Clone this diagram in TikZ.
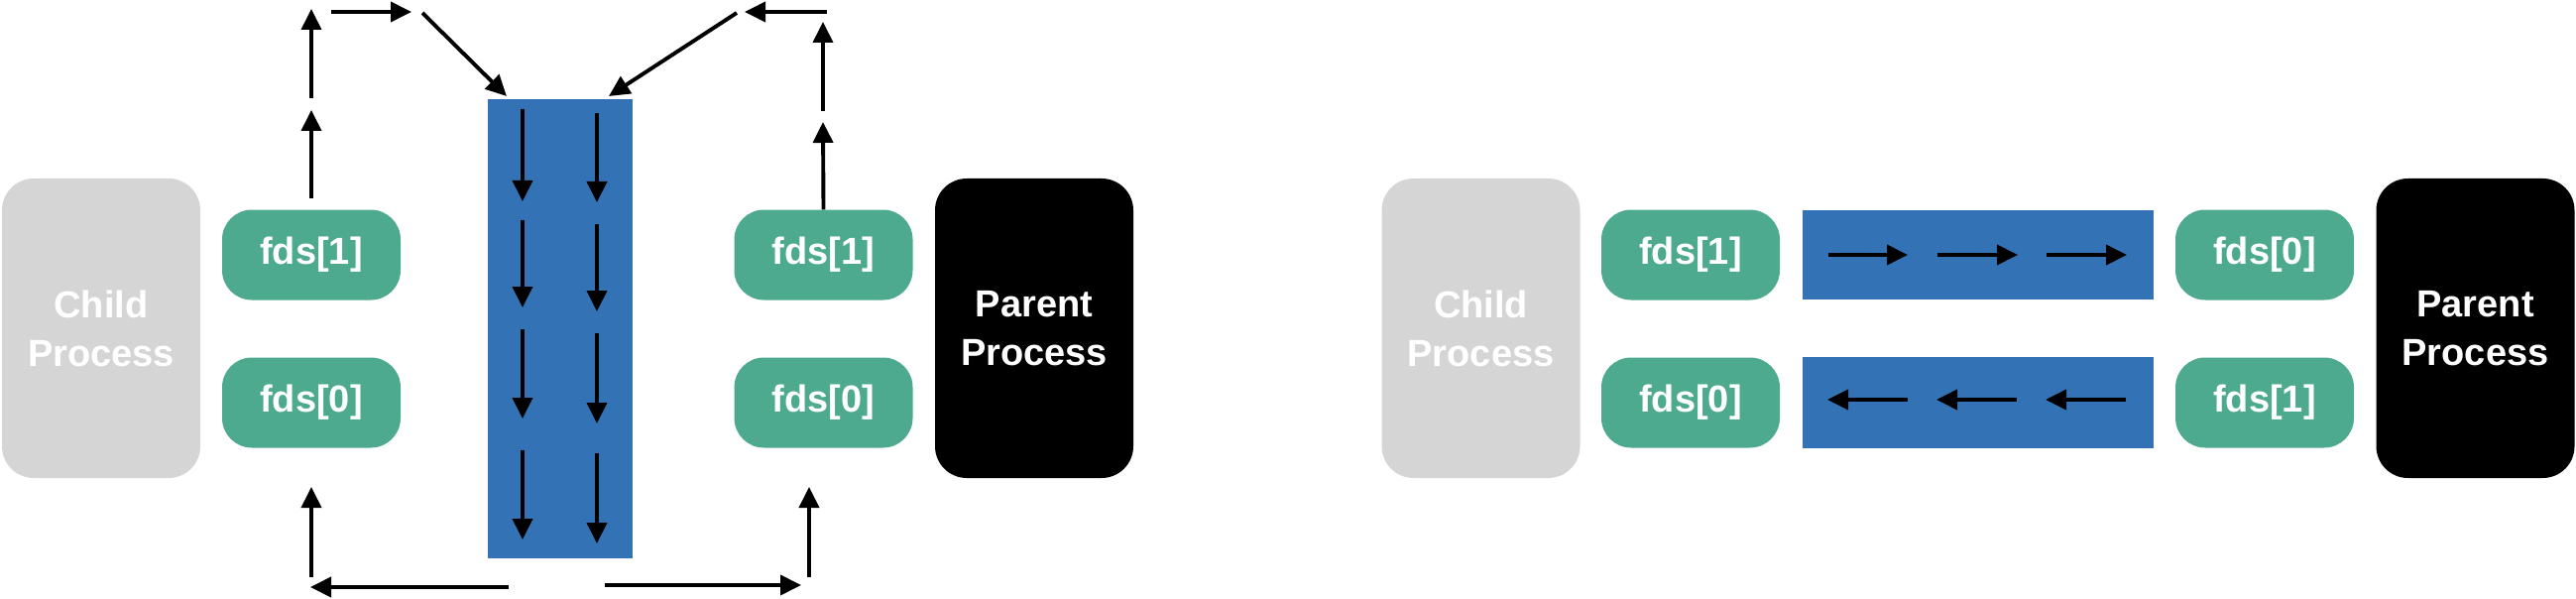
\documentclass[tikz,border=0pt]{standalone}
\usepackage{fontspec}
\usetikzlibrary{arrows.meta}
\newfontfamily\lblfont{Liberation Sans}
\definecolor{procgray}{RGB}{213,213,213}
\definecolor{fdgreen}{RGB}{78,170,143}
\definecolor{pipeblue}{RGB}{51,115,181}
\tikzset{
  proc/.style={rounded corners=32pt, minimum width=200pt, minimum height=302pt, inner sep=0pt,
    text=white, align=center, font=\lblfont\bfseries\fontsize{38}{49}\selectfont},
  fdbox/.style={rounded corners=30pt, fill=fdgreen, minimum width=180pt, minimum height=91pt, inner sep=0pt,
    text=white, font=\lblfont\bfseries\fontsize{38}{49}\selectfont},
  pipe/.style={fill=pipeblue, inner sep=0pt},
  arr/.style={line width=3.9pt, -{Triangle[length=21pt,width=20pt]}}
}
\begin{document}
\begin{tikzpicture}[x=1pt,y=-1pt]
\useasboundingbox (0,0) rectangle (2598,604);
% ---------- left diagram ----------
\node[proc, fill=procgray] (childL) at (102,331) {Child\\Process};
\node[fdbox] (fdsoneL) at (314,257) {fds[1]};
\node[fdbox] (fdszeroL) at (314,406) {fds[0]};
\node[pipe, minimum width=146pt, minimum height=463pt] (pipeL) at (565,331.5) {};
\node[fdbox] (fdsoneR) at (830.5,257) {fds[1]};
\node[fdbox] (fdszeroR) at (830.5,406) {fds[0]};
\node[proc, fill=black] (parentL) at (1043,331) {Parent\\Process};
% pipe flow arrows
\foreach \a/\b in {110/203,222/310,332/422,454/544}{
  \draw[arr] ([xshift=-38pt]pipeL.center |- 0,\a) -- ([xshift=-38pt]pipeL.center |- 0,\b);
}
\foreach \a/\b in {114/204,226/314,336/427,457/548}{
  \draw[arr] ([xshift=37pt]pipeL.center |- 0,\a) -- ([xshift=37pt]pipeL.center |- 0,\b);
}
% child write path (top-left)
\coordinate (cwA) at (314,200);
\coordinate (cwB) at (314,111);
\coordinate (cwC) at (314,99);
\coordinate (cwD) at (314,9);
\coordinate (cwE) at (334,12);
\coordinate (cwF) at (415,12);
\coordinate (cwG) at (426,13);
\coordinate (cwH) at (511,97);
\draw[arr] (cwA) -- (cwB);
\draw[arr] (cwC) -- (cwD);
\draw[arr] (cwE) -- (cwF);
\draw[arr] (cwG) -- (cwH);
% parent write path (top-right)
\coordinate (pwB) at (830,123);
\coordinate (pwC) at (830,112);
\coordinate (pwD) at (830,22);
\coordinate (pwE) at (834,12);
\coordinate (pwF) at (751,12);
\coordinate (pwG) at (743,13);
\coordinate (pwH) at (614,97);
\draw[arr] (fdsoneR.north) -- (pwB);
\draw[arr] (pwC) -- (pwD);
\draw[arr] (pwE) -- (pwF);
\draw[arr] (pwG) -- (pwH);
% read paths (bottom)
\coordinate (crA) at (513,592);
\coordinate (crB) at (313,592);
\coordinate (crC) at (314,582);
\coordinate (crD) at (314,491);
\draw[arr] (crA) -- (crB);
\draw[arr] (crC) -- (crD);
\coordinate (prA) at (610,590);
\coordinate (prB) at (808,590);
\coordinate (prC) at (816,582);
\coordinate (prD) at (816,491);
\draw[arr] (prA) -- (prB);
\draw[arr] (prC) -- (prD);
% ---------- right diagram ----------
\node[proc, fill=procgray] (childR) at (1493.5,331) {Child\\Process};
\node[fdbox] (fdsoneC) at (1705,257) {fds[1]};
\node[fdbox] (fdszeroC) at (1705,406) {fds[0]};
\node[pipe, minimum width=354pt, minimum height=90pt] (pipeT) at (1995,257) {};
\node[pipe, minimum width=354pt, minimum height=92pt] (pipeB) at (1995,406) {};
\node[fdbox] (fdszeroP) at (2284,257) {fds[0]};
\node[fdbox] (fdsoneP) at (2284,406) {fds[1]};
\node[proc, fill=black] (parentR) at (2496.5,331) {Parent\\Process};
\foreach \a/\b in {1844/1924,1954/2035,2064/2145}{
  \draw[arr] (\a,257) -- (\b,257);
}
\foreach \a/\b in {1924/1843,2034/1953,2144/2063}{
  \draw[arr] (\a,403) -- (\b,403);
}
\end{tikzpicture}
\end{document}
